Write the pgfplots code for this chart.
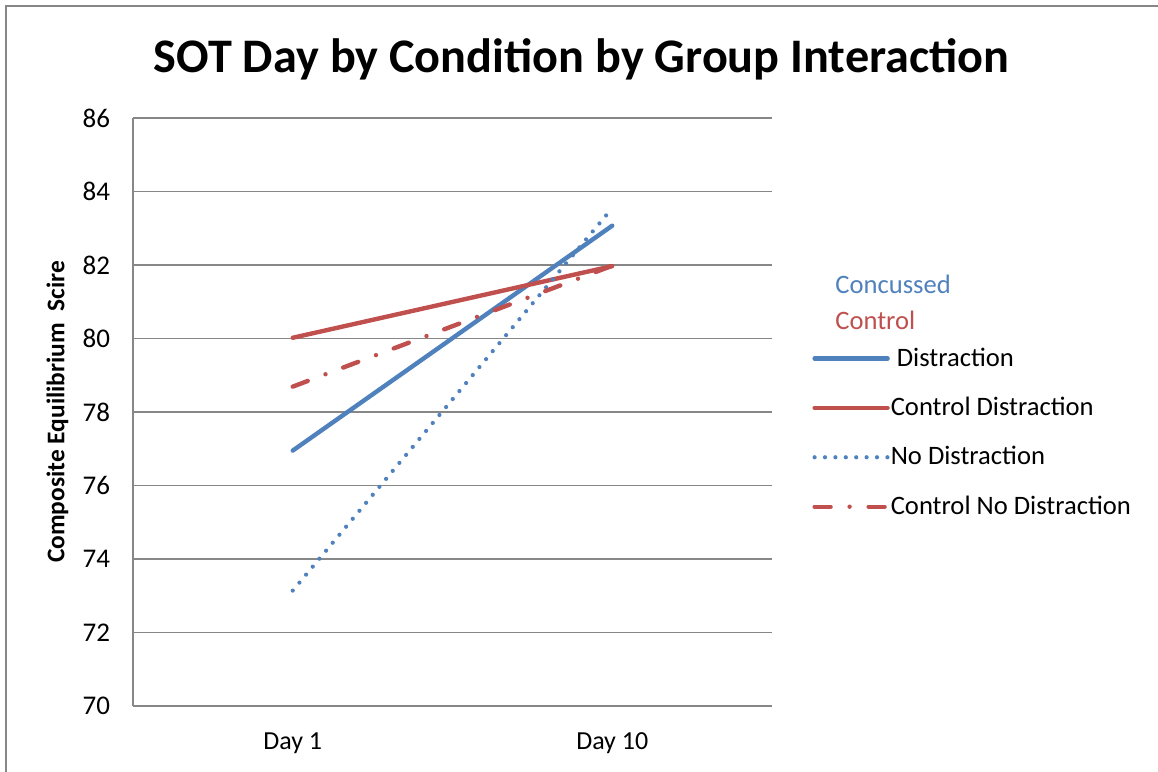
\documentclass[border=0pt]{standalone}
\usepackage{pgfplots}
\pgfplotsset{compat=1.18}
\usepackage{fontspec}
\setmainfont{Carlito}
\definecolor{cblue}{HTML}{4F81BD}
\definecolor{cred}{HTML}{C0504D}
\definecolor{gridgray}{HTML}{878787}
\begin{document}
\begin{tikzpicture}
\path[use as bounding box] (0,0) rectangle (579pt,386pt);
\draw[color=gridgray, line width=1pt] (3pt,0) -- (3pt,383pt) -- (579pt,383pt);
\node[font=\fontsize{24.1}{29}\selectfont\bfseries, anchor=base] at (290.75pt,349.5pt) {SOT Day by Condition by Group Interaction};
\node[font=\fontsize{13.3}{16}\selectfont, text=cblue, anchor=base west, inner sep=0pt] at (417.5pt,239.25pt) {Concussed};
\node[font=\fontsize{13.3}{16}\selectfont, text=cred, anchor=base west, inner sep=0pt] at (417.5pt,221.25pt) {Control};
\begin{axis}[
  at={(66.5pt,33pt)}, anchor=south west,
  scale only axis, width=319.5pt, height=294pt,
  xmin=0, xmax=2, ymin=70, ymax=86,
  xtick={0.5,1.5}, xticklabels={Day 1, Day 10},
  ytick={70,72,...,86},
  ymajorgrids, grid style={gridgray, line width=0.6pt},
  axis lines=left, axis line style={gridgray, line width=0.6pt, -},
  major tick length=0pt,
  /pgf/number format/assume math mode=true,
  yticklabel style={font=\fontsize{13.5}{16}\selectfont, xshift=-8pt},
  xticklabel style={font=\fontsize{13}{15}\selectfont, yshift=-10pt},
  ylabel={Composite Equilibrium\ \ Scire},
  ylabel style={font=\fontsize{12.7}{15}\selectfont\bfseries, at={(axis description cs:-0.1182,0.5)}, anchor=center},
  legend style={draw=none, fill=none, inner sep=0pt, at={(axis description cs:1.0626,0.61)}, anchor=north west, font=\fontsize{13.3}{16}\selectfont, row sep=14pt, column sep=0.5pt, nodes={inner sep=0pt}, cells={anchor=west}},
  legend image code/.code={\draw[#1] (0pt,0pt) -- (36.5pt,0pt);},
  clip=false,
]
\addplot[cblue, line width=2.2pt, line cap=round] coordinates {(0.5,76.95) (1.5,83.07)};
\addlegendentry{\ Distraction}
\addplot[cred, line width=2.2pt, line cap=round] coordinates {(0.5,80.02) (1.5,81.97)};
\addlegendentry{Control Distraction}
\addplot[cblue, line width=2.1pt, line cap=round, dash pattern=on 0pt off 5.2pt] coordinates {(0.5,73.14) (1.5,83.55)};
\addlegendentry{No Distraction}
\addplot[cred, line width=2.2pt, line cap=round, dash pattern=on 8pt off 9.5pt on 0pt off 9.5pt] coordinates {(0.5,78.69) (1.5,81.98)};
\addlegendentry{Control No Distraction}
\end{axis}
\end{tikzpicture}
\end{document}
